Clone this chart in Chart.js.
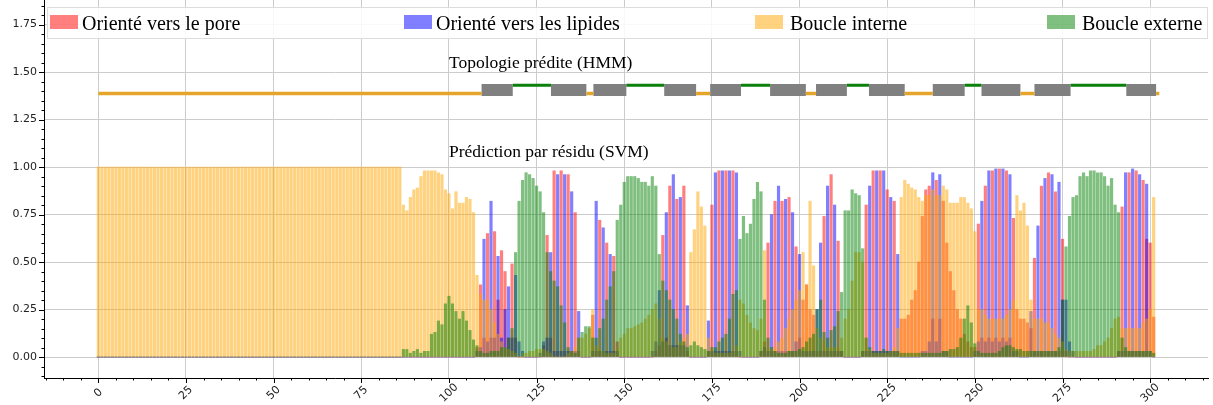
<!DOCTYPE html>
<html>
<head>
<meta charset="utf-8">
<script src="https://cdn.jsdelivr.net/npm/chart.js@4.4.0/dist/chart.umd.min.js"></script>
<style>
  body { margin: 0; background: #fff; }
  #wrap { width: 1213px; height: 405px; position: relative; }
</style>
</head>
<body>
<div id="wrap"><canvas id="barChart"></canvas></div>
<script>
// legend labels, same order as the series below
var categories = ["Orienté vers le pore", "Orienté vers les lipides", "Boucle interne", "Boucle externe"];

// per-residue SVM scores, residues 0..301
var pore = [
  0,0,0,0,0,0,0,0,0,0, 0,0,0,0,0,0,0,0,0,0, 0,0,0,0,0,0,0,0,0,0, 0,0,0,0,0,0,0,0,0,0,
  0,0,0,0,0,0,0,0,0,0, 0,0,0,0,0,0,0,0,0,0, 0,0,0,0,0,0,0,0,0,0, 0,0,0,0,0,0,0,0,0,0,
  0,0,0,0,0,0,0,0,0,0, 0,0,0,0,0,0,0,0,0,0,
  0,0,0,0,0,0,0,0,.05,.38,
  .1,.65,.1,.66,.3,.56,.45,.1,.49,.1,
  0,0,0,0,0,0,0,.06,.64,.1,
  .98,.03,.98,.03,.96,.03,.76,.03,0,0,
  0,.22,.03,.72,.03,.6,.03,.53,.08,0,
  0,0,0,0,0,0,0,0,0,.03,
  .06,.64,.1,.9,.06,.83,.06,.9,.03,0,
  0,0,0,0,.03,.8,.03,.98,.03,.98,
  .03,.98,.03,0,0,0,0,0,0,.03,
  .08,.6,.03,.82,.03,.82,.03,.84,.03,.58,
  .1,.3,.38,.25,.22,.03,.03,.74,.03,.96,
  .03,.61,.03,0,0,0,0,0,.03,.8,
  .03,.98,.03,.98,.03,.88,.03,.82,.03,.2,
  .2,.22,.3,.35,.5,.74,.88,.9,.2,.93,
  .2,.82,.6,.45,.35,.25,.2,.12,.08,.05,
  .05,.7,.1,.9,.1,.98,.1,.99,.1,.98,
  .1,.73,.25,.2,.2,.18,.15,.52,.03,.9,
  .03,.97,.03,.87,.03,.62,.03,0,0,0,
  0,0,0,0,0,0,0,0,0,0,
  0,.03,.79,.03,.97,.03,.98,.03,.93,.62,
  .6,.21
];
var lipid = [
  0,0,0,0,0,0,0,0,0,0, 0,0,0,0,0,0,0,0,0,0, 0,0,0,0,0,0,0,0,0,0, 0,0,0,0,0,0,0,0,0,0,
  0,0,0,0,0,0,0,0,0,0, 0,0,0,0,0,0,0,0,0,0, 0,0,0,0,0,0,0,0,0,0, 0,0,0,0,0,0,0,0,0,0,
  0,0,0,0,0,0,0,0,0,0, 0,0,0,0,0,0,0,0,0,0,
  0,0,0,0,0,0,0,0,.03,.05,
  .62,.08,.82,.1,.53,.1,.25,.37,.1,.43,
  .08,.03,0,0,0,0,.02,.08,.1,.55,
  .03,.96,.03,.96,.03,.87,.03,.24,0,0,
  0,.03,.82,.03,.68,.03,.54,.03,.03,0,
  0,0,0,0,0,0,0,0,.03,.08,
  .35,.08,.76,.06,.96,.06,.84,.06,.27,0,
  0,0,0,0,.19,.03,.97,.03,.98,.03,
  .98,.03,.97,.03,0,0,0,0,0,.03,
  .05,.03,.75,.03,.9,.03,.83,.03,.76,.08,
  .54,.03,.03,.03,.03,.25,.6,.03,.9,.03,
  .8,.03,.03,0,0,0,0,0,.03,.03,
  .9,.03,.98,.03,.98,.03,.84,.03,.54,0,
  0,0,0,0,0,.03,.03,.08,.97,.08,
  .96,.03,.03,0,0,0,0,0,0,0,
  .03,.08,.82,.08,.98,.08,.99,.08,.99,.08,
  .96,.03,.03,0,0,0,.24,.03,.69,.03,
  .94,.03,.96,.03,.92,.3,.3,.08,.03,0,
  0,0,0,0,0,0,0,0,0,0,
  0,.03,.03,.97,.03,.99,.03,.96,.03,.91,
  .03,0
];
var inner = [
  1,1,1,1,1,1,1,1,1,1, 1,1,1,1,1,1,1,1,1,1, 1,1,1,1,1,1,1,1,1,1, 1,1,1,1,1,1,1,1,1,1,
  1,1,1,1,1,1,1,1,1,1, 1,1,1,1,1,1,1,1,1,1, 1,1,1,1,1,1,1,1,1,1, 1,1,1,1,1,1,1,1,1,1,
  1,1,1,1,1,1,1,.8,.77,.84,
  .88,.89,.95,.98,.98,.98,.98,.97,.96,.88,
  .86,.78,.87,.81,.81,.84,.83,.76,.43,.33,
  .3,.3,.25,.18,.12,.08,.05,.04,.03,.02,
  0,.02,.02,.03,.03,.04,.04,.04,.03,.02,
  0,0,0,0,.02,.03,.05,.1,.1,.12,
  .15,.25,.06,.04,.03,.02,.02,.02,.04,.1,
  .12,.15,.15,.16,.17,.18,.2,.22,.25,.28,
  .2,.1,.08,.06,.05,.05,.08,.1,.12,.55,
  .67,.87,.79,.69,.1,.04,.02,.02,.02,.02,
  .02,.03,.06,.3,.28,.22,.18,.15,.14,.2,
  .56,.04,.04,.05,.08,.1,.15,.2,.25,.3,
  .35,.55,.38,.82,.48,.15,.1,.08,.05,.05,
  .05,.05,.1,.2,.25,.4,.55,.55,.5,.1,
  .04,.02,.02,.02,.02,.02,.03,.05,.15,.84,
  .93,.91,.89,.88,.84,.82,.85,.85,.88,.85,
  .85,.9,.88,.81,.81,.81,.84,.84,.81,.78,
  .66,.25,.25,.22,.2,.2,.2,.2,.2,.22,
  .25,.3,.85,.77,.81,.69,.3,.2,.2,.2,
  .18,.18,.15,.12,.1,.08,.04,.03,.03,.03,
  .03,.03,.03,.03,.04,.06,.06,.08,.1,.15,
  .2,.21,.15,.15,.15,.15,.15,.15,.18,.2,
  .25,.84
];
var outer = [
  0,0,0,0,0,0,0,0,0,0, 0,0,0,0,0,0,0,0,0,0, 0,0,0,0,0,0,0,0,0,0, 0,0,0,0,0,0,0,0,0,0,
  0,0,0,0,0,0,0,0,0,0, 0,0,0,0,0,0,0,0,0,0, 0,0,0,0,0,0,0,0,0,0, 0,0,0,0,0,0,0,0,0,0,
  0,0,0,0,0,0,0,.04,.04,.02,
  .03,.04,.02,.03,.03,.12,.13,.19,.17,.28,
  .32,.28,.24,.2,.24,.19,.14,.09,.06,.03,
  .02,.02,.03,.03,.03,.05,.05,.1,.15,.55,
  .82,.93,.97,.96,.94,.9,.87,.76,.55,.45,
  .4,.37,.27,.18,.05,.03,.02,.1,.13,.16,
  .16,.1,.1,.15,.2,.3,.37,.45,.72,.8,
  .92,.95,.95,.95,.94,.92,.92,.9,.95,.9,
  .54,.4,.35,.3,.25,.2,.12,.08,.05,.06,
  .08,.06,.05,.04,.03,.05,.05,.08,.1,.12,
  .2,.33,.35,.62,.74,.65,.7,.83,.92,.87,
  .3,.1,.05,.03,.02,.02,.02,.03,.03,.03,
  .04,.05,.08,.1,.12,.25,.3,.13,.1,.14,
  .16,.24,.34,.77,.77,.88,.86,.85,.57,.1,
  .05,.03,.03,.03,.04,.03,.03,.03,.03,.02,
  .02,.02,.02,.02,.02,.02,.02,.02,.02,.02,
  .02,.03,.03,.04,.04,.05,.1,.2,.27,.18,
  .07,.03,.02,.02,.02,.02,.02,.03,.05,.06,
  .06,.05,.04,.04,.03,.03,.03,.03,.03,.03,
  .03,.03,.03,.03,.05,.3,.58,.74,.84,.85,
  .95,.97,.95,.98,.98,.97,.97,.95,.9,.94,
  .8,.76,.1,.05,.03,.03,.03,.03,.03,.03,
  .03,.02
];

// HMM topology: [start, end] residue ranges
var topoInner = [[0,109.3],[139.2,141.2],[170.5,174.5],[201.8,204.7],[230,238],[263,267],[301.7,302.6]];
var topoOuter = [[118.2,129.1],[150.6,161.4],[183.3,191.6],[213.5,219.8],[247.1,251.9],[277.3,293.2]];
var topoTM = [[109.3,118.2],[129.1,139.2],[141.2,150.6],[161.4,170.5],[174.5,183.3],[191.6,201.8],
  [204.7,213.5],[219.8,230],[238,247.1],[251.9,263],[267,277.3],[293.2,301.7]];

var xTicks = [0,25,50,75,100,125,150,175,200,225,250,275,300];
var yTicks = [0,0.25,0.5,0.75,1,1.25,1.5,1.75];

var colors = ["rgba(255,0,0,0.5)", "rgba(0,0,255,0.5)", "rgba(255,165,0,0.5)", "rgba(0,128,0,0.5)"];

function toPoints(vals) {
  return vals.map(function (v, i) { return { x: i, y: v }; });
}
function toSegments(segs, level) {
  var pts = [];
  segs.forEach(function (s) {
    pts.push({ x: s[0], y: level }, { x: s[1], y: level }, { x: s[1], y: null });
  });
  return pts;
}

var extras = {
  id: 'extras',
  afterDraw: function (chart) {
    var ctx = chart.ctx, xs = chart.scales.x, ys = chart.scales.y, a = chart.chartArea;
    ctx.save();
    // tick marks, major and minor
    ctx.strokeStyle = '#000';
    ctx.lineWidth = 1;
    for (var v = -15; v <= 315; v += 5) {
      var px = Math.round(xs.getPixelForValue(v)) + 0.5;
      ctx.beginPath();
      ctx.moveTo(px, a.bottom);
      ctx.lineTo(px, a.bottom + (v % 25 === 0 ? 5 : 2.5));
      ctx.stroke();
    }
    for (var k = -2; k <= 37; k++) {
      var py = Math.round(ys.getPixelForValue(k * 0.05)) + 0.5;
      if (py < a.top) continue;
      ctx.beginPath();
      ctx.moveTo(a.left, py);
      ctx.lineTo(a.left - (k % 5 === 0 ? 5 : 2.5), py);
      ctx.stroke();
    }
    // rotated x labels, centred on the tick
    ctx.font = '11px "DejaVu Sans"';
    ctx.fillStyle = '#222';
    ctx.textAlign = 'center';
    ctx.textBaseline = 'middle';
    xTicks.forEach(function (t) {
      ctx.save();
      ctx.translate(xs.getPixelForValue(t), a.bottom + 15);
      ctx.rotate(-Math.PI / 4);
      ctx.fillText(String(t), 0, 0);
      ctx.restore();
    });
    // annotations
    ctx.font = '17.5px "Liberation Serif"';
    ctx.fillStyle = '#000';
    ctx.textAlign = 'left';
    ctx.textBaseline = 'alphabetic';
    ctx.fillText('Topologie prédite (HMM)', xs.getPixelForValue(100), ys.getPixelForValue(1.5) - 4);
    ctx.fillText('Prédiction par résidu (SVM)', xs.getPixelForValue(100), ys.getPixelForValue(1.03) - 4);
    // legend
    ctx.fillStyle = 'rgba(255,255,255,0.85)';
    ctx.fillRect(47, 7, 1161, 32);
    ctx.strokeStyle = '#dddddd';
    ctx.strokeRect(47.5, 7.5, 1160, 31);
    var sx = [50, 404, 755, 1047], tx = [82, 436, 790, 1082];
    ctx.font = '20px "Liberation Serif"';
    ctx.textBaseline = 'alphabetic';
    categories.forEach(function (c, i) {
      ctx.fillStyle = colors[i];
      ctx.fillRect(sx[i], 15, 28, 14);
      ctx.fillStyle = '#000';
      ctx.fillText(c, tx[i], 30);
    });
    ctx.restore();
  }
};

var barOpts = { grouped: false, barThickness: 2.5, borderWidth: 0 };
var datasets = [pore, lipid, inner, outer].map(function (vals, i) {
  return Object.assign({ type: 'bar', label: categories[i], data: toPoints(vals), backgroundColor: colors[i], order: 4 - i }, barOpts);
});
datasets.push({ type: 'line', label: 'inner', data: toSegments(topoInner, 1.387), borderColor: '#e5a52a', borderWidth: 3.5, pointRadius: 0, spanGaps: false, borderCapStyle: 'butt', order: 0 });
datasets.push({ type: 'line', label: 'outer', data: toSegments(topoOuter, 1.43), borderColor: '#0b800b', borderWidth: 3, pointRadius: 0, spanGaps: false, borderCapStyle: 'butt', order: 0 });
datasets.push({ type: 'line', label: 'tm', data: toSegments(topoTM, 1.405), borderColor: '#808080', borderWidth: 12, pointRadius: 0, spanGaps: false, borderCapStyle: 'butt', order: 0 });

var ctxB = document.getElementById('barChart').getContext('2d');
var myChart = new Chart(ctxB, {
  type: 'bar',
  data: { datasets: datasets },
  options: {
    responsive: true,
    maintainAspectRatio: false,
    animation: false,
    devicePixelRatio: 1,
    events: [],
    layout: { padding: { top: 0, right: 5, bottom: 0, left: 0 } },
    plugins: { legend: { display: false }, tooltip: { enabled: false } },
    scales: {
      x: {
        type: 'linear', min: -15.5, max: 316.5, offset: false,
        grid: { offset: false, color: '#cccccc', lineWidth: 1, drawTicks: false },
        border: { display: true, color: '#000', width: 1 },
        ticks: { display: false },
        afterBuildTicks: function (s) { s.ticks = xTicks.map(function (v) { return { value: v }; }); },
        afterFit: function (s) { s.height = 27; s.paddingLeft = 0; s.paddingRight = 0; }
      },
      y: {
        type: 'linear', min: -0.1105, max: 1.879,
        grid: { color: '#cccccc', lineWidth: 1, drawTicks: false },
        border: { display: true, color: '#000', width: 1 },
        ticks: {
          padding: 7, color: '#222', font: { family: 'DejaVu Sans', size: 11 },
          callback: function (v) { return v.toFixed(2); }
        },
        afterBuildTicks: function (s) { s.ticks = yTicks.map(function (v) { return { value: v }; }); },
        afterFit: function (s) { s.width = 44; s.paddingTop = 0; s.paddingBottom = 0; }
      }
    }
  },
  plugins: [extras]
});
</script>
</body>
</html>
